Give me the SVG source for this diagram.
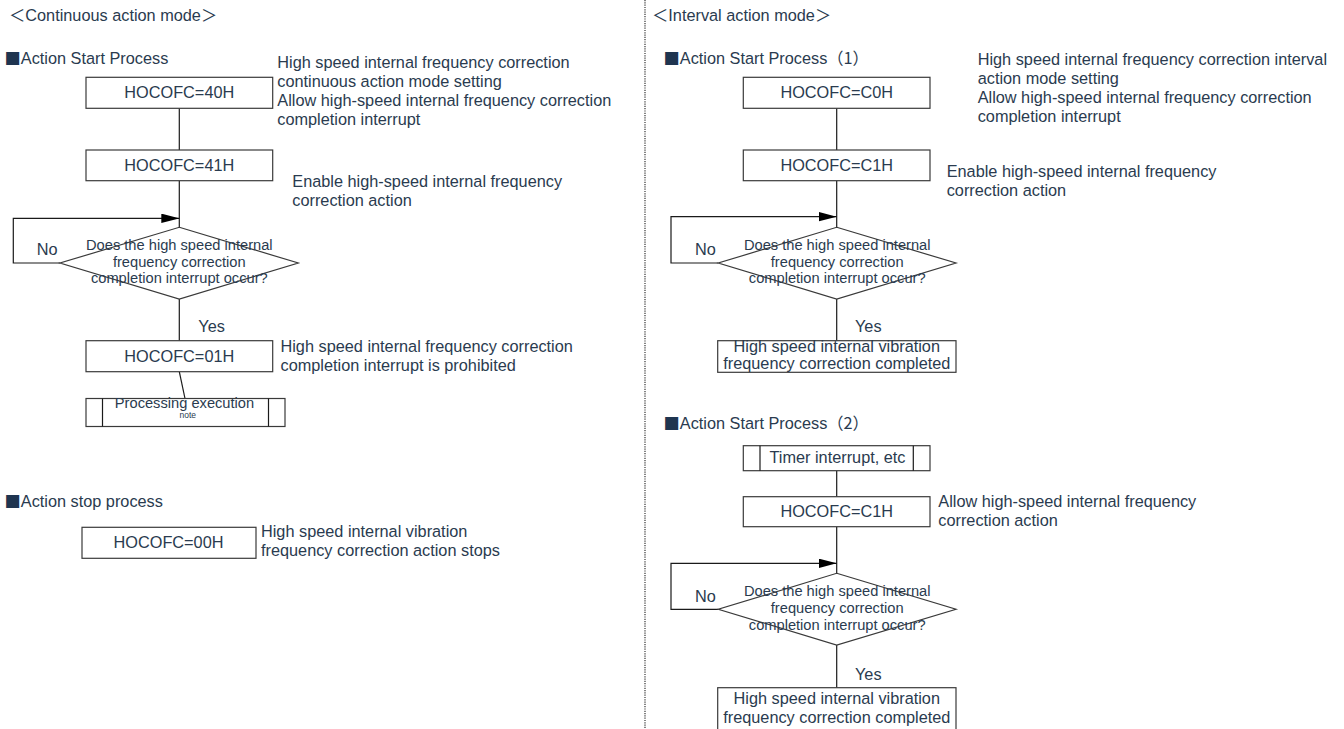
<svg xmlns="http://www.w3.org/2000/svg" width="1344" height="729" viewBox="0 0 1344 729">
<style>
text{font-family:"Liberation Sans","Noto Sans CJK SC",sans-serif;font-size:16.3px;fill:#2a3b4f}
.c{text-anchor:middle}
.d{font-size:14.67px}
.n{font-size:8.5px}
.cjk{font-family:"Noto Sans CJK SC",sans-serif}
.sq{font-family:"Noto Sans CJK SC",sans-serif;fill:#1f3550}
.box{fill:#fff;stroke:#3a3a3a;stroke-width:1.2}
.ln{fill:none;stroke:#1a1a1a;stroke-width:1.2}
.dv{fill:none;stroke:#333;stroke-width:1.2;stroke-dasharray:1.2 1.1}
</style>
<defs>
<marker id="arr" markerUnits="userSpaceOnUse" markerWidth="18" markerHeight="10" refX="18" refY="4.7" orient="auto">
<path d="M0,0 L18,4.7 L0,9.4 z" fill="#000"/>
</marker>
</defs>
<rect width="1344" height="729" fill="#fff"/>
<line class="dv" x1="645" y1="0" x2="645" y2="729"/>

<g id="headings">
<text x="9" y="20.5"><tspan class="cjk">＜</tspan>Continuous action mode<tspan class="cjk">＞</tspan></text>
<text x="4.5" y="64"><tspan class="sq">■</tspan>Action Start Process</text>
<text x="4.5" y="506.7"><tspan class="sq">■</tspan>Action stop process</text>
<text x="652" y="20.5"><tspan class="cjk">＜</tspan>Interval action mode<tspan class="cjk">＞</tspan></text>
<text x="663.5" y="64"><tspan class="sq">■</tspan>Action Start Process<tspan class="cjk">（1）</tspan></text>
<text x="663.5" y="429.3"><tspan class="sq">■</tspan>Action Start Process<tspan class="cjk">（2）</tspan></text>
</g>

<g id="connectors">
<line class="ln" x1="179.3" y1="108.3" x2="179.3" y2="150"/>
<line class="ln" x1="179.3" y1="180.7" x2="179.3" y2="227.3"/>
<path class="ln" d="M60,263 H13.3 V218.3 H179.3" marker-end="url(#arr)"/>
<line class="ln" x1="179.3" y1="299" x2="179.3" y2="340.7"/>
<line class="ln" x1="179.3" y1="371.7" x2="185" y2="398.5"/>
<line class="ln" x1="836.7" y1="108.3" x2="836.7" y2="150"/>
<line class="ln" x1="836.7" y1="180.7" x2="836.7" y2="227.3"/>
<path class="ln" d="M718.3,263 H671 V216.7 H836.7" marker-end="url(#arr)"/>
<line class="ln" x1="836.7" y1="299" x2="836.7" y2="340.7"/>
<line class="ln" x1="836.7" y1="470.7" x2="836.7" y2="496.7"/>
<line class="ln" x1="836.7" y1="526.7" x2="836.7" y2="573.3"/>
<path class="ln" d="M718.3,609.3 H671 V563.3 H836.7" marker-end="url(#arr)"/>
<line class="ln" x1="836.7" y1="645" x2="836.7" y2="687.7"/>
<text x="36.7" y="255">No</text>
<text x="198.3" y="332">Yes</text>
<text x="695" y="255">No</text>
<text x="855" y="332">Yes</text>
<text x="695" y="601.7">No</text>
<text x="855" y="680">Yes</text>
</g>

<g id="l_box1">
<rect class="box" x="86" y="77.3" width="186.7" height="31"/>
<text class="c" x="179.3" y="98">HOCOFC=40H</text>
<text x="277.3" y="68.3">High speed internal frequency correction</text>
<text x="277.3" y="87.2">continuous action mode setting</text>
<text x="277.3" y="106.1">Allow high-speed internal frequency correction</text>
<text x="277.3" y="125">completion interrupt</text>
</g>
<g id="l_box2">
<rect class="box" x="86" y="150" width="186.7" height="30.7"/>
<text class="c" x="179.3" y="170.7">HOCOFC=41H</text>
<text x="292.3" y="186.7">Enable high-speed internal frequency</text>
<text x="292.3" y="205.6">correction action</text>
</g>
<g id="l_decision">
<polygon class="box" points="179.3,227.3 298.3,263 179.3,299 60,263"/>
<text class="c d" x="179.3" y="250">Does the high speed internal</text>
<text class="c d" x="179.3" y="266.7">frequency correction</text>
<text class="c d" x="179.3" y="283.3">completion interrupt occur?</text>
</g>
<g id="l_box3">
<rect class="box" x="86" y="340.7" width="186.7" height="31"/>
<text class="c" x="179.3" y="361.7">HOCOFC=01H</text>
<text x="280.5" y="352">High speed internal frequency correction</text>
<text x="280.5" y="370.9">completion interrupt is prohibited</text>
</g>
<g id="l_proc">
<rect class="box" x="86" y="398.5" width="199" height="28"/>
<line class="ln" x1="102.5" y1="398.5" x2="102.5" y2="426.5"/>
<line class="ln" x1="268.5" y1="398.5" x2="268.5" y2="426.5"/>
<text class="c d" x="184.5" y="407.5">Processing execution</text>
<text class="c n" x="187.7" y="418.3">note</text>
</g>
<g id="l_stop">
<rect class="box" x="82" y="527.3" width="174" height="31"/>
<text class="c" x="168.5" y="548.3">HOCOFC=00H</text>
<text x="261" y="537">High speed internal vibration</text>
<text x="261" y="556">frequency correction action stops</text>
</g>

<g id="r_box1">
<rect class="box" x="743.3" y="77.3" width="186.7" height="31"/>
<text class="c" x="836.7" y="98">HOCOFC=C0H</text>
<text x="977.7" y="65.3">High speed internal frequency correction interval</text>
<text x="977.7" y="84.2">action mode setting</text>
<text x="977.7" y="103.1">Allow high-speed internal frequency correction</text>
<text x="977.7" y="122">completion interrupt</text>
</g>
<g id="r_box2">
<rect class="box" x="743.3" y="150" width="186.7" height="30.7"/>
<text class="c" x="836.7" y="170.7">HOCOFC=C1H</text>
<text x="946.7" y="177">Enable high-speed internal frequency</text>
<text x="946.7" y="195.8">correction action</text>
</g>
<g id="r_decision1">
<polygon class="box" points="836.7,227.3 956,263 836.7,299 718.3,263"/>
<text class="c d" x="837.2" y="250">Does the high speed internal</text>
<text class="c d" x="837.2" y="266.7">frequency correction</text>
<text class="c d" x="837.2" y="283.3">completion interrupt occur?</text>
</g>
<g id="r_done1">
<rect class="box" x="717.7" y="340.7" width="238.3" height="31.6"/>
<text class="c" x="836.8" y="352.2">High speed internal vibration</text>
<text class="c" x="836.8" y="368.7">frequency correction completed</text>
</g>
<g id="r_timer">
<rect class="box" x="743.3" y="445.7" width="186.7" height="25"/>
<line class="ln" x1="760" y1="445.7" x2="760" y2="470.7"/>
<line class="ln" x1="913.3" y1="445.7" x2="913.3" y2="470.7"/>
<text class="c" x="837.5" y="463">Timer interrupt, etc</text>
</g>
<g id="r_box3">
<rect class="box" x="743.3" y="496.7" width="186.7" height="30"/>
<text class="c" x="836.7" y="517.3">HOCOFC=C1H</text>
<text x="938.3" y="507">Allow high-speed internal frequency</text>
<text x="938.3" y="526">correction action</text>
</g>
<g id="r_decision2">
<polygon class="box" points="836.7,573.3 956,609.3 836.7,645 718.3,609.3"/>
<text class="c d" x="837.2" y="596.3">Does the high speed internal</text>
<text class="c d" x="837.2" y="613">frequency correction</text>
<text class="c d" x="837.2" y="629.6">completion interrupt occur?</text>
</g>
<g id="r_done2">
<rect class="box" x="717.7" y="687.7" width="238.3" height="45"/>
<text class="c" x="836.8" y="704.3">High speed internal vibration</text>
<text class="c" x="836.8" y="723.3">frequency correction completed</text>
</g>
</svg>
